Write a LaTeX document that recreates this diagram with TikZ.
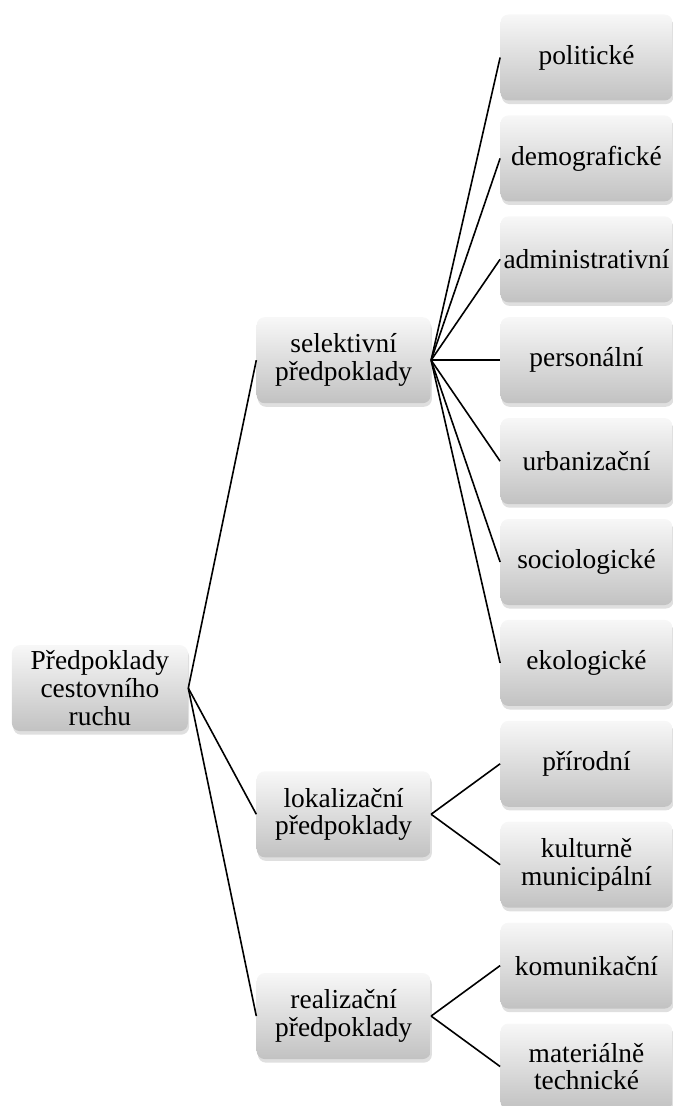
\documentclass[tikz,border=0pt]{standalone}
\usepackage{fontspec}
\setmainfont{Liberation Serif}
\usepackage{xcolor}
\usepackage{tikz}
\usetikzlibrary{positioning,calc,shadows}
\tikzset{
  box/.style={rectangle, rounded corners=4pt, draw=none,
    top color=white!97!black, bottom color=black!24,
    drop shadow={opacity=0.25, shadow xshift=0.6pt, shadow yshift=-1.8pt},
    align=center, minimum height=43pt, inner sep=1pt,
    font=\fontsize{13.7}{13.8}\selectfont},
  root/.style={box, minimum width=88pt},
  mid/.style={box, minimum width=87pt},
  leaf/.style={box, minimum width=86pt},
  link/.style={draw=black, line width=0.8pt},
}

\begin{document}
\begin{tikzpicture}[node distance=7.05pt and 34.5pt]
  \useasboundingbox (0,0) rectangle (336.5pt,-553pt);
  % leaves
  \node[leaf] (pol) at (293.25pt,-28.75pt) {politické};
  \node[leaf, below=of pol] (dem) {demografické};
  \node[leaf, below=of dem] (adm) {administrativní};
  \node[leaf, below=of adm] (per) {personální};
  \node[leaf, below=of per] (urb) {urbanizační};
  \node[leaf, below=of urb] (soc) {sociologické};
  \node[leaf, below=of soc] (eko) {ekologické};
  \node[leaf, below=of eko] (pri) {přírodní};
  \node[leaf, below=of pri] (kul) {kulturně\\municipální};
  \node[leaf, below=of kul] (kom) {komunikační};
  \node[leaf, below=of kom] (mat) {materiálně\\technické};
  % second level
  \node[mid, left=of per.west, anchor=east] (sel) {selektivní\\předpoklady};
  \coordinate (lokc) at ($(pri.west)!0.5!(kul.west)$);
  \node[mid, left=of lokc] (lok) {lokalizační\\předpoklady};
  \coordinate (reac) at ($(kom.west)!0.5!(mat.west)$);
  \node[mid, left=of reac] (rea) {realizační\\předpoklady};
  % root
  \coordinate (rootc) at ($(sel.west)!0.5!(rea.west)$);
  \node[root, left=34pt of rootc] (top) {Předpoklady\\cestovního\\ruchu};
  % links
  \foreach \m in {sel,lok,rea}
    \draw[link] (top.east) -- (\m.west);
  \foreach \l in {pol,dem,adm,per,urb,soc,eko}
    \draw[link] (sel.east) -- (\l.west);
  \draw[link] (lok.east) -- (pri.west);
  \draw[link] (lok.east) -- (kul.west);
  \draw[link] (rea.east) -- (kom.west);
  \draw[link] (rea.east) -- (mat.west);
\end{tikzpicture}
\end{document}
